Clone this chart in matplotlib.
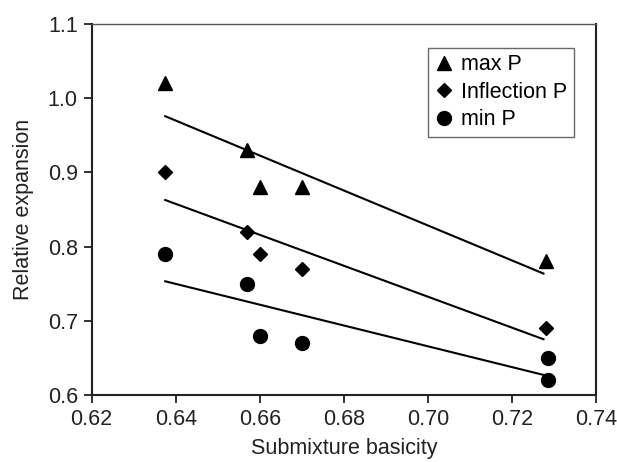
import numpy as np
import matplotlib.pyplot as plt

plt.rcParams['font.family'] = ['Liberation Sans', 'DejaVu Sans']

# data
x_max = [0.6375, 0.657, 0.660, 0.670, 0.728]
y_max = [1.02, 0.93, 0.88, 0.88, 0.78]

x_inf = [0.6375, 0.657, 0.660, 0.670, 0.728]
y_inf = [0.90, 0.82, 0.79, 0.77, 0.69]

x_min = [0.6375, 0.657, 0.660, 0.670, 0.7285, 0.7285]
y_min = [0.79, 0.75, 0.68, 0.67, 0.65, 0.62]

xticks = [0.62, 0.64, 0.66, 0.68, 0.70, 0.72, 0.74]
yticks = [0.6, 0.7, 0.8, 0.9, 1.0, 1.1]

fig = plt.figure(figsize=(6.17, 4.62), dpi=100)
ax = fig.add_axes([0.1486, 0.145, 0.8174, 0.803])

series = [
    (x_max, y_max, '^', 'max P', 10),
    (x_inf, y_inf, 'D', 'Inflection P', 7.5),
    (x_min, y_min, 'o', 'min P', 10),
]
for xs, ys, mk, lab, ms in series:
    ax.plot(xs, ys, linestyle='none', marker=mk, color='black', markersize=ms, label=lab)
    # least-squares trend line over the data range
    k, b = np.polyfit(xs, ys, 1)
    xl = np.array([min(xs), max(xs) - 0.0005])
    ax.plot(xl, k * xl + b, color='black', lw=1.5)

ax.set_xlim(0.62, 0.74)
ax.set_ylim(0.6, 1.1)
ax.set_xticks(xticks)
ax.set_xticklabels(['%.2f' % v for v in xticks])
ax.set_yticks(yticks)
ax.set_yticklabels(['%.1f' % v for v in yticks])
ax.tick_params(labelsize=15.5, direction='out', length=6, width=1.3, colors='#222222', pad=4)

ax.set_xlabel('Submixture basicity', fontsize=15.5, color='#222222', labelpad=6)
ax.set_ylabel('Relative expansion', fontsize=15.5, color='#222222', labelpad=10)

for s in ['left', 'bottom', 'right']:
    ax.spines[s].set_linewidth(1.5)
    ax.spines[s].set_color('#222222')
ax.spines['top'].set_linewidth(1.0)
ax.spines['top'].set_color('#555555')

leg = ax.legend(loc='upper right', bbox_to_anchor=(0.9564, 0.9353), borderaxespad=0,
                fontsize=15.5, frameon=True, fancybox=False, handlelength=0.9,
                handletextpad=0.35, labelspacing=0.3, borderpad=0.3)
leg.get_frame().set_edgecolor('#444444')
leg.get_frame().set_linewidth(1.0)

fig.savefig('out.png', dpi=100)
